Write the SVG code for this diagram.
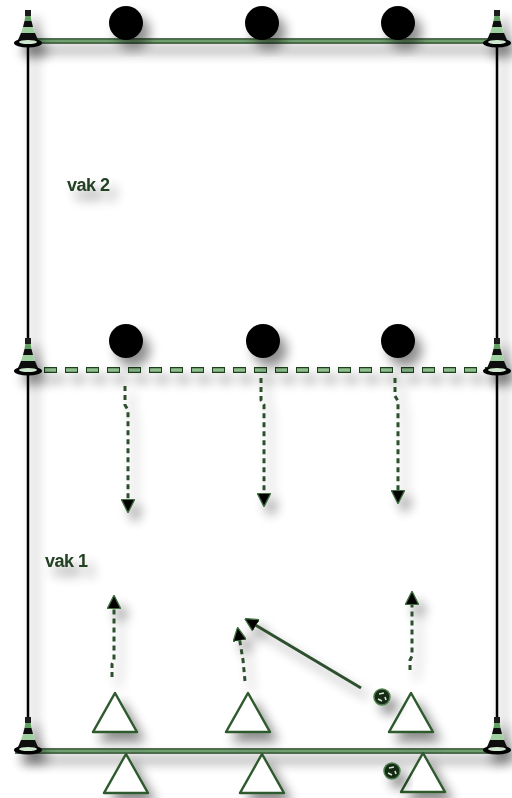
<svg xmlns="http://www.w3.org/2000/svg" width="512" height="798" viewBox="0 0 512 798">
<defs>
<filter id="sh" x="-50%" y="-50%" width="200%" height="200%">
<feGaussianBlur in="SourceAlpha" stdDeviation="6"/>
<feOffset dx="7" dy="9" result="b"/>
<feComponentTransfer><feFuncA type="linear" slope="0.45"/></feComponentTransfer>
<feMerge><feMergeNode/><feMergeNode in="SourceGraphic"/></feMerge>
</filter>
<marker id="ah" viewBox="0 0 10 10" refX="8" refY="5" markerWidth="4.5" markerHeight="4.5" orient="auto">
<path d="M0,0 L10,5 L0,10 z" fill="#000" stroke="#3f6f3f" stroke-width="1"/>
</marker>
<g id="cone">
<ellipse cx="0" cy="2" rx="14" ry="4.5" fill="#000"/>
<ellipse cx="0" cy="1" rx="9" ry="2" fill="#cfe8cf"/>
<polygon points="-10,-1 10,-1 7,-8 -7,-8" fill="#111"/>
<polygon points="-7,-8 7,-8 5,-14 -5,-14" fill="#9fd09f"/>
<polygon points="-5,-14 5,-14 3.5,-20 -3.5,-20" fill="#111"/>
<polygon points="-3.5,-20 3.5,-20 2.5,-26 -2.5,-26" fill="#5f9f5f"/>
<rect x="-3" y="-31" width="6" height="6" fill="#1a1a1a"/>
</g>
<polygon id="tri" points="0,0 22,39 -22,39" fill="#fff" stroke="#2f5a2f" stroke-width="2.5" stroke-linejoin="round"/>
<g id="sball">
<circle r="8" fill="#152a15" stroke="#4f7f4f" stroke-width="1.5"/>
<path d="M-3,-3 L2,-4 M-4,2 L0,4 M3,0 L4,3" stroke="#cfe8cf" stroke-width="1.6"/>
</g>
</defs>
<style>
.field{stroke:#000;stroke-width:2.5;fill:none}
.band{stroke:#1f3f1f;stroke-width:5.5;fill:none}
.bandin{stroke:#6f9f6f;stroke-width:3;fill:none}
.mid{stroke:#1f3f1f;stroke-width:6;stroke-dasharray:13 8;fill:none}
.midin{stroke:#8fbf8f;stroke-width:3.5;stroke-dasharray:11 10;stroke-dashoffset:-1;fill:none}
.run{stroke:#2f4f2f;stroke-width:3;stroke-dasharray:5 4;fill:none}
.pass{stroke:#2f4f2f;stroke-width:3;fill:none}
.lbl{font-family:"Liberation Sans",Arial,sans-serif;font-size:18px;font-weight:bold;fill:#243f24;letter-spacing:-0.5px}
.ball{fill:#000}
</style>
<g id="field" filter="url(#sh)">
<line class="field" x1="28" y1="40" x2="28" y2="750"/>
<line class="field" x1="497" y1="40" x2="497" y2="750"/>
<line class="band" x1="20" y1="41" x2="497" y2="41"/>
<line class="bandin" x1="20" y1="41" x2="497" y2="41"/>
<line class="band" x1="15" y1="751" x2="497" y2="751"/>
<line class="bandin" x1="15" y1="751" x2="497" y2="751"/>
<line class="mid" x1="44" y1="370" x2="497" y2="370"/>
<line class="midin" x1="44" y1="370" x2="497" y2="370"/>
</g>
<g id="cones" filter="url(#sh)">
<use href="#cone" x="28" y="41"/>
<use href="#cone" x="497" y="41"/>
<use href="#cone" x="28" y="369"/>
<use href="#cone" x="497" y="369"/>
<use href="#cone" x="28" y="748"/>
<use href="#cone" x="497" y="748"/>
</g>
<g id="balls-top" filter="url(#sh)">
<circle class="ball" cx="126" cy="23" r="17"/>
<circle class="ball" cx="262" cy="23" r="17"/>
<circle class="ball" cx="398" cy="23" r="17"/>
</g>
<g id="balls-mid" filter="url(#sh)">
<circle class="ball" cx="126" cy="341" r="17"/>
<circle class="ball" cx="263" cy="341" r="17"/>
<circle class="ball" cx="398" cy="341" r="17"/>
</g>
<g id="connectors" filter="url(#sh)">
<path class="run" d="M125,386 L125,405 L128,410 L128,510" marker-end="url(#ah)"/>
<path class="run" d="M261,378 L261,400 L264,405 L264,504" marker-end="url(#ah)"/>
<path class="run" d="M395,378 L395,396 L398,401 L398,501" marker-end="url(#ah)"/>
<path class="run" d="M112,677 L112,664 L114,660 L114,598" marker-end="url(#ah)"/>
<path class="run" d="M245,681 L243,660 L238,630" marker-end="url(#ah)"/>
<path class="run" d="M410,670 L410,660 L412,656 L412,594" marker-end="url(#ah)"/>
<path class="pass" d="M361,688 L247,620" marker-end="url(#ah)"/>
</g>
<g id="players" filter="url(#sh)">
<use href="#tri" x="115" y="693"/>
<use href="#tri" x="248" y="693"/>
<use href="#tri" x="411" y="693"/>
<use href="#tri" x="126" y="754"/>
<use href="#tri" x="262" y="754"/>
<use href="#tri" x="423" y="753"/>
</g>
<g id="sballs" filter="url(#sh)">
<use href="#sball" x="382" y="697"/>
<use href="#sball" x="392" y="771"/>
</g>
<g id="labels" filter="url(#sh)">
<text class="lbl" x="67" y="191">vak 2</text>
<text class="lbl" x="45" y="567">vak 1</text>
</g>
</svg>
